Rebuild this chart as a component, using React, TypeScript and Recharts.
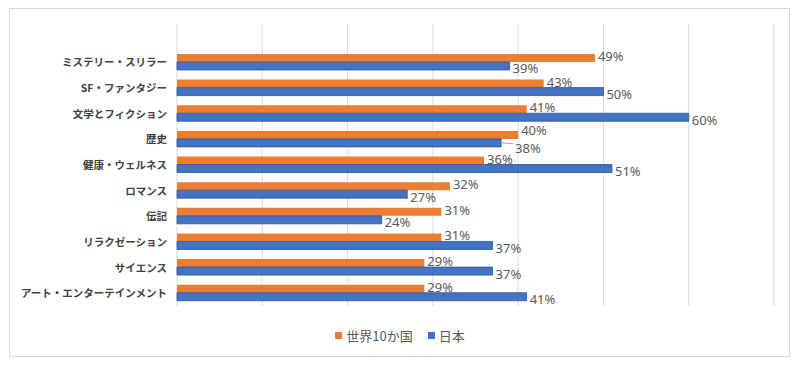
import React from "react";
import { BarChart, Bar, XAxis, YAxis, CartesianGrid, Legend, LabelList } from "recharts";

const categories = [
  "ミステリー・スリラー",
  "SF・ファンタジー",
  "文学とフィクション",
  "歴史",
  "健康・ウェルネス",
  "ロマンス",
  "伝記",
  "リラクゼーション",
  "サイエンス",
  "アート・エンターテインメント",
];
const worldValues = [49, 43, 41, 40, 36, 32, 31, 31, 29, 29];
const japanValues = [39, 50, 60, 38, 51, 27, 24, 37, 37, 41];
const xTicks = [0, 10, 20, 30, 40, 50, 60, 70];
const seriesNames = ["世界10か国", "日本"];
const colors = ["#ED7D31", "#4472C4"];

const data = categories.map((c, i) => ({ name: c, world: worldValues[i], japan: japanValues[i] }));

const FONT = "'Noto Sans CJK JP', 'Noto Sans', sans-serif";

const LegendContent = () => (
  <div style={{ display: "flex", justifyContent: "center", alignItems: "center", fontFamily: FONT, fontSize: 13, color: "#595959" }}>
    {seriesNames.map((n, i) => (
      <div key={n} style={{ display: "flex", alignItems: "center", marginRight: i === 0 ? 15 : 0 }}>
        <span style={{ width: 7, height: 7, background: colors[i], display: "inline-block", marginRight: 4 }} />
        <span>{n}</span>
      </div>
    ))}
  </div>
);

const CatTick = (props: any) => {
  const { x, y, payload } = props;
  return (
    <text x={x} y={y} dy={4} textAnchor="end" fontFamily={FONT} fontSize={10.5} fontWeight={700} fill="#404040">
      {payload.value}
    </text>
  );
};

// a row is "crowded" when both label anchors are close horizontally
const isCrowded = (index: number, pxPer: number) =>
  Math.abs(worldValues[index] - japanValues[index]) * pxPer < 30;

const labelStyle = {
  fontFamily: "'Noto Sans', sans-serif",
  fontSize: 13,
  fill: "#595959",
};

const WorldLabel = (props: any) => {
  const { x, y, width, height, value, index } = props;
  const pxPer = value ? width / value : 0;
  const crowded = isCrowded(index, pxPer);
  return (
    <text x={x + width + 3} y={y + height / 2 + (crowded ? -4.5 : -2)} dominantBaseline="central" textAnchor="start" {...labelStyle}>
      {`${value}%`}
    </text>
  );
};

const JapanLabel = (props: any) => {
  const { x, y, width, height, value, index } = props;
  const pxPer = value ? width / value : 0;
  const crowded = isCrowded(index, pxPer);
  const end = x + width;
  const cy = y + height / 2;
  if (crowded) {
    const lx = end + 14;
    return (
      <g>
        <line x1={end + 1} y1={cy} x2={lx - 1} y2={cy + 1} stroke="#a6a6a6" strokeWidth={1} />
        <text x={lx} y={cy + 5} dominantBaseline="central" textAnchor="start" {...labelStyle}>
          {`${value}%`}
        </text>
      </g>
    );
  }
  return (
    <text x={end + 3} y={cy + 2.5} dominantBaseline="central" textAnchor="start" {...labelStyle}>
      {`${value}%`}
    </text>
  );
};

export default function App() {
  return (
    <div style={{ position: "absolute", left: 0, top: 0, width: 800, height: 370, background: "#fff" }}>
      <div style={{ position: "absolute", left: 9, top: 8, width: 781, height: 349, border: "1px solid #d9d9d9", boxSizing: "border-box" }} />
      <BarChart
        width={800}
        height={370}
        data={data}
        layout="vertical"
        margin={{ top: 24, right: 26, bottom: 64, left: 0 }}
        barCategoryGap="17%"
        barGap={0}
      >
        <CartesianGrid horizontal={false} vertical={true} stroke="#d9d9d9" />
        <XAxis type="number" domain={[0, 70]} ticks={xTicks} hide />
        <YAxis
          type="category"
          dataKey="name"
          width={177}
          tickLine={false}
          axisLine={false}
          tickSize={0}
          tickMargin={10}
          padding={{ top: 25.6, bottom: 0 }}
          interval={0}
          tick={<CatTick />}
        />
        <Legend
          content={<LegendContent />}
          wrapperStyle={{ top: 326, left: 0, width: 800, height: 0, overflow: "visible" }}
        />
        <Bar dataKey="world" name={seriesNames[0]} fill={colors[0]} isAnimationActive={false}>
          <LabelList dataKey="world" content={WorldLabel} />
        </Bar>
        <Bar dataKey="japan" name={seriesNames[1]} fill={colors[1]} stroke="#2F528F" strokeWidth={0.8} isAnimationActive={false}>
          <LabelList dataKey="japan" content={JapanLabel} />
        </Bar>
      </BarChart>
    </div>
  );
}
